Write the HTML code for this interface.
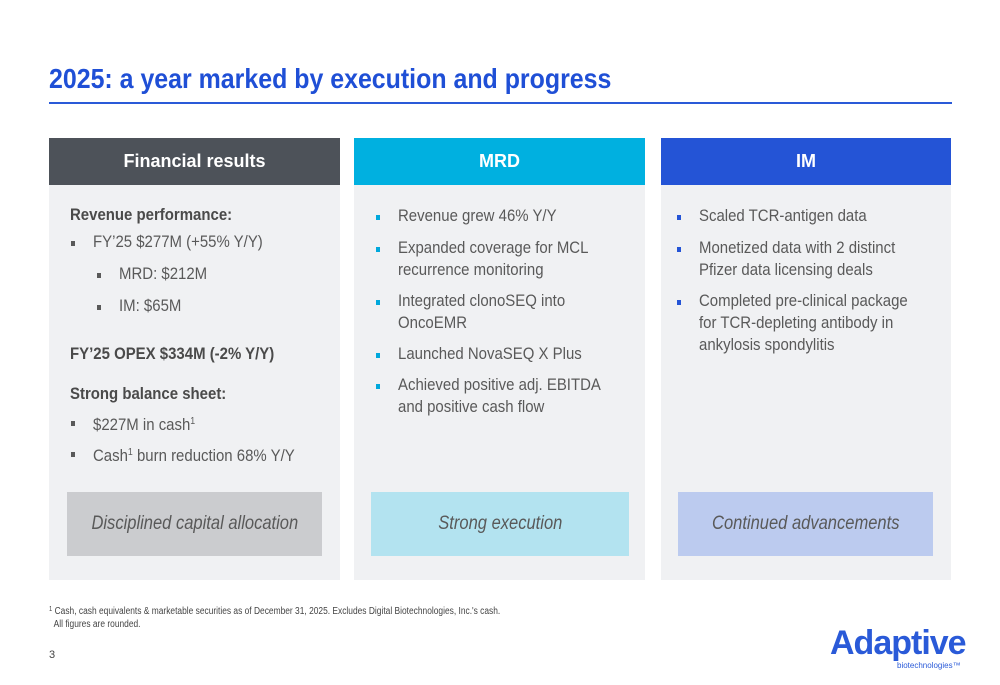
<!DOCTYPE html>
<html><head><meta charset="utf-8"><style>
body{margin:0;width:1000px;height:685px;background:#fff;position:relative;overflow:hidden;font-family:"Liberation Sans",Arial,sans-serif;color:#595959}
.a{position:absolute;white-space:nowrap}
.t{font-size:17px;line-height:22px;transform:scaleX(.88);transform-origin:left center}
.b{font-weight:bold;color:#4a4a4a}
.bul{position:absolute;width:4px;height:5px}
.hd{position:absolute;top:138px;height:47px;color:#fff;font-weight:bold;font-size:18px;line-height:47px;text-align:center}
.body{position:absolute;top:185px;height:395px;background:#f0f1f3}
.box{position:absolute;top:492px;height:64px;font-style:italic;font-size:19px;line-height:64px;text-align:center;color:#595959}
sup{font-size:10px;vertical-align:6px}
</style></head><body>
<div class="a" style="left:49px;top:63px;font-size:28px;font-weight:bold;color:#1f4fd6;transform:scaleX(.89);transform-origin:left">2025: a year marked by execution and progress</div>
<div class="a" style="left:49px;top:102px;width:903px;height:2px;background:#2a5ad8"></div>

<div class="body" style="left:49px;width:291px"></div>
<div class="body" style="left:354px;width:291px"></div>
<div class="body" style="left:661px;width:290px"></div>

<div class="hd" style="left:49px;width:291px;background:#4d5259">Financial results</div>
<div class="hd" style="left:354px;width:291px;background:#00b0e0">MRD</div>
<div class="hd" style="left:661px;width:290px;background:#2454d6">IM</div>

<!-- col1 -->
<div class="a t b" style="left:70px;top:204px">Revenue performance:</div>
<div class="bul" style="left:71px;top:241px;background:#595959"></div>
<div class="a t" style="left:93px;top:231px">FY’25 $277M (+55% Y/Y)</div>
<div class="bul" style="left:97px;top:273px;background:#595959"></div>
<div class="a t" style="left:119px;top:263px">MRD: $212M</div>
<div class="bul" style="left:97px;top:305px;background:#595959"></div>
<div class="a t" style="left:119px;top:295px">IM: $65M</div>
<div class="a t b" style="left:70px;top:343px">FY’25 OPEX $334M (-2% Y/Y)</div>
<div class="a t b" style="left:70px;top:383px">Strong balance sheet:</div>
<div class="bul" style="left:71px;top:421px;background:#595959"></div>
<div class="a t" style="left:93px;top:411px">$227M in cash<sup>1</sup></div>
<div class="bul" style="left:71px;top:452px;background:#595959"></div>
<div class="a t" style="left:93px;top:442px">Cash<sup>1</sup> burn reduction 68% Y/Y</div>

<!-- col2 -->
<div class="bul" style="left:376px;top:215px;background:#00a8dc"></div>
<div class="a t" style="left:398px;top:205px">Revenue grew 46% Y/Y</div>
<div class="bul" style="left:376px;top:247px;background:#00a8dc"></div>
<div class="a t" style="left:398px;top:237px">Expanded coverage for MCL<br>recurrence monitoring</div>
<div class="bul" style="left:376px;top:300px;background:#00a8dc"></div>
<div class="a t" style="left:398px;top:290px">Integrated clonoSEQ into<br>OncoEMR</div>
<div class="bul" style="left:376px;top:353px;background:#00a8dc"></div>
<div class="a t" style="left:398px;top:343px">Launched NovaSEQ X Plus</div>
<div class="bul" style="left:376px;top:384px;background:#00a8dc"></div>
<div class="a t" style="left:398px;top:374px">Achieved positive adj. EBITDA<br>and positive cash flow</div>

<!-- col3 -->
<div class="bul" style="left:677px;top:215px;background:#2454d6"></div>
<div class="a t" style="left:699px;top:205px">Scaled TCR-antigen data</div>
<div class="bul" style="left:677px;top:247px;background:#2454d6"></div>
<div class="a t" style="left:699px;top:237px">Monetized data with 2 distinct<br>Pfizer data licensing deals</div>
<div class="bul" style="left:677px;top:300px;background:#2454d6"></div>
<div class="a t" style="left:699px;top:290px">Completed pre-clinical package<br>for TCR-depleting antibody in<br>ankylosis spondylitis</div>

<div class="box" style="left:67px;width:255px;background:#cbcccf"><span style="display:inline-block;transform:scaleX(.87)">Disciplined capital allocation</span></div>
<div class="box" style="left:371px;width:258px;background:#b3e3f0"><span style="display:inline-block;transform:scaleX(.87)">Strong execution</span></div>
<div class="box" style="left:678px;width:255px;background:#bccbef"><span style="display:inline-block;transform:scaleX(.87)">Continued advancements</span></div>

<div class="a" style="left:49px;top:603px;font-size:10px;line-height:13px;color:#444;transform:scaleX(.84);transform-origin:left"><sup style="font-size:7px;vertical-align:3px">1</sup> Cash, cash equivalents &amp; marketable securities as of December 31, 2025. Excludes Digital Biotechnologies, Inc.'s cash.<br>&nbsp;&nbsp;All figures are rounded.</div>
<div class="a" style="left:49px;top:649px;font-size:11px;color:#444">3</div>

<div class="a" style="left:830px;top:624px;font-size:34px;font-weight:bold;color:#2a5ad8;letter-spacing:-1px;line-height:38px">Adaptive</div>
<div class="a" style="left:897px;top:661px;font-size:8px;color:#2a5ad8">biotechnologies™</div>
</body></html>
